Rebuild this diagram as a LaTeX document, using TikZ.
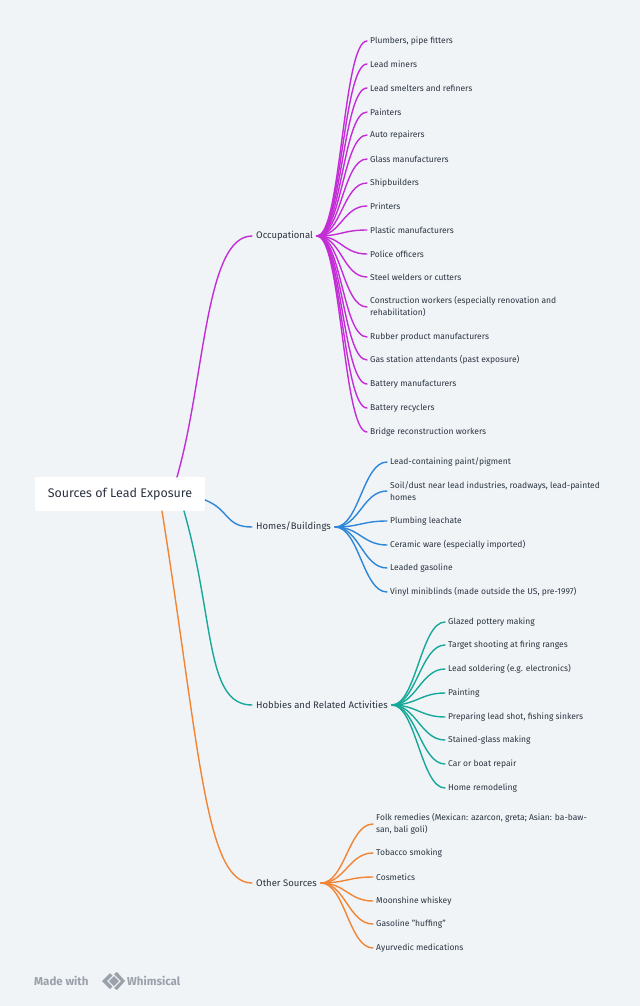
\documentclass[tikz,border=0pt]{standalone}
\usepackage{fontspec}
\setmainfont{Fira Sans}
\usetikzlibrary{positioning}
\definecolor{bgcol}{HTML}{F0F4F7}
\definecolor{txtcol}{HTML}{2B3440}
\definecolor{occcol}{HTML}{C42DD6}
\definecolor{homecol}{HTML}{2E86D9}
\definecolor{hobcol}{HTML}{17A89A}
\definecolor{othcol}{HTML}{F08535}
\definecolor{logocol}{HTML}{9AA1AA}
\tikzset{
  leaf/.style={anchor=west, inner sep=0pt, align=left, text=txtcol,
    font=\fontsize{8.5}{12}\selectfont},
  branch/.style={inner sep=0pt, text=txtcol, font=\fontsize{9.5}{11}\selectfont},
  wire/.style={line width=1.4pt, line cap=round}
}
\begin{document}
\begin{tikzpicture}[x=1pt,y=-1pt]
  \fill[bgcol] (0,0) rectangle (640,1006);
  \useasboundingbox (0,0) rectangle (640,1006);
  % root
  \node[fill=white, rounded corners=2pt, minimum width=170pt, minimum height=34pt,
    text=txtcol, font=\fontsize{12.5}{14}\selectfont] (root) at (120,494) {Sources of Lead Exposure};
  \node[branch, anchor=west] (occ) at (256,236) {Occupational};
  \node[branch, anchor=west] (home) at (256,527) {Homes/Buildings};
  \node[branch, anchor=west] (hob) at (256,705) {Hobbies and Related Activities};
  \node[branch, anchor=west] (oth) at (256,883) {Other Sources};
  \draw[wire, occcol] (177,477) .. controls (205,380) and (205,236) .. ([xshift=-4pt]occ.west);
  \draw[wire, homecol] (root.east) ++(0,6) .. controls (230,510) and (225,527) .. ([xshift=-4pt]home.west);
  \draw[wire, hobcol] (184,511) .. controls (215,620) and (205,705) .. ([xshift=-4pt]hob.west);
  \draw[wire, othcol] (162,511) .. controls (200,750) and (205,883) .. ([xshift=-4pt]oth.west);
  % occupational leaves
  \foreach \t/\y [count=\i] in {{Plumbers, pipe fitters}/41, {Lead miners}/64, {Lead smelters and refiners}/88,
      {Painters}/112, {Auto repairers}/135, {Glass manufacturers}/159, {Shipbuilders}/183, {Printers}/206,
      {Plastic manufacturers}/230, {Police officers}/254, {Steel welders or cutters}/277,
      {Construction workers (especially renovation and\\rehabilitation)}/307,
      {Rubber product manufacturers}/337, {Gas station attendants (past exposure)}/360,
      {Battery manufacturers}/384, {Battery recyclers}/408, {Bridge reconstruction workers}/432} {
    \node[leaf] (o\i) at (370,\y) {\t};
    \draw[wire, occcol] ([xshift=4pt]occ.east) .. controls +(24,0) and +(-24,0) .. ([xshift=-3pt]o\i.west);
  }
  % homes leaves
  \foreach \t/\y [count=\i] in {{Lead-containing paint/pigment}/462,
      {Soil/dust near lead industries, roadways, lead-painted\\homes}/491,
      {Plumbing leachate}/521, {Ceramic ware (especially imported)}/545, {Leaded gasoline}/568,
      {Vinyl miniblinds (made outside the US, pre-1997)}/592} {
    \node[leaf] (h\i) at (390,\y) {\t};
    \draw[wire, homecol] ([xshift=4pt]home.east) .. controls +(24,0) and +(-24,0) .. ([xshift=-3pt]h\i.west);
  }
  % hobbies leaves
  \foreach \t/\y [count=\i] in {{Glazed pottery making}/622, {Target shooting at firing ranges}/645,
      {Lead soldering (e.g. electronics)}/669, {Painting}/693, {Preparing lead shot, fishing sinkers}/717,
      {Stained-glass making}/740, {Car or boat repair}/764, {Home remodeling}/788} {
    \node[leaf] (b\i) at (448,\y) {\t};
    \draw[wire, hobcol] ([xshift=4pt]hob.east) .. controls +(24,0) and +(-24,0) .. ([xshift=-3pt]b\i.west);
  }
  % other leaves
  \foreach \t/\y [count=\i] in {{Folk remedies (Mexican: azarcon, greta; Asian: ba-baw-\\san, bali goli)}/824,
      {Tobacco smoking}/853, {Cosmetics}/877, {Moonshine whiskey}/901, {Gasoline "huffing"}/924,
      {Ayurvedic medications}/948} {
    \node[leaf] (t\i) at (376,\y) {\t};
    \draw[wire, othcol] ([xshift=4pt]oth.east) .. controls +(24,0) and +(-24,0) .. ([xshift=-3pt]t\i.west);
  }
  % logo
  \node[anchor=west, inner sep=0pt, text=logocol, font=\fontsize{11.5}{13}\bfseries] (made) at (34,981) {Made with};
  \fill[logocol] (102,981) -- (110,973) -- (112.5,975.5) -- (107,981) -- (112.5,986.5) -- (110,989) -- cycle;
  \fill[logocol] (109,981) -- (114,976) -- (119,981) -- (114,986) -- cycle;
  \fill[logocol] (114,974) -- (117,972) -- (125,981) -- (117,990) -- (114,988) -- (121,981) -- cycle;
  \node[anchor=west, inner sep=0pt, text=logocol, font=\fontsize{11.5}{13}\bfseries] (whim) at (127,981) {Whimsical};
\end{tikzpicture}
\end{document}
